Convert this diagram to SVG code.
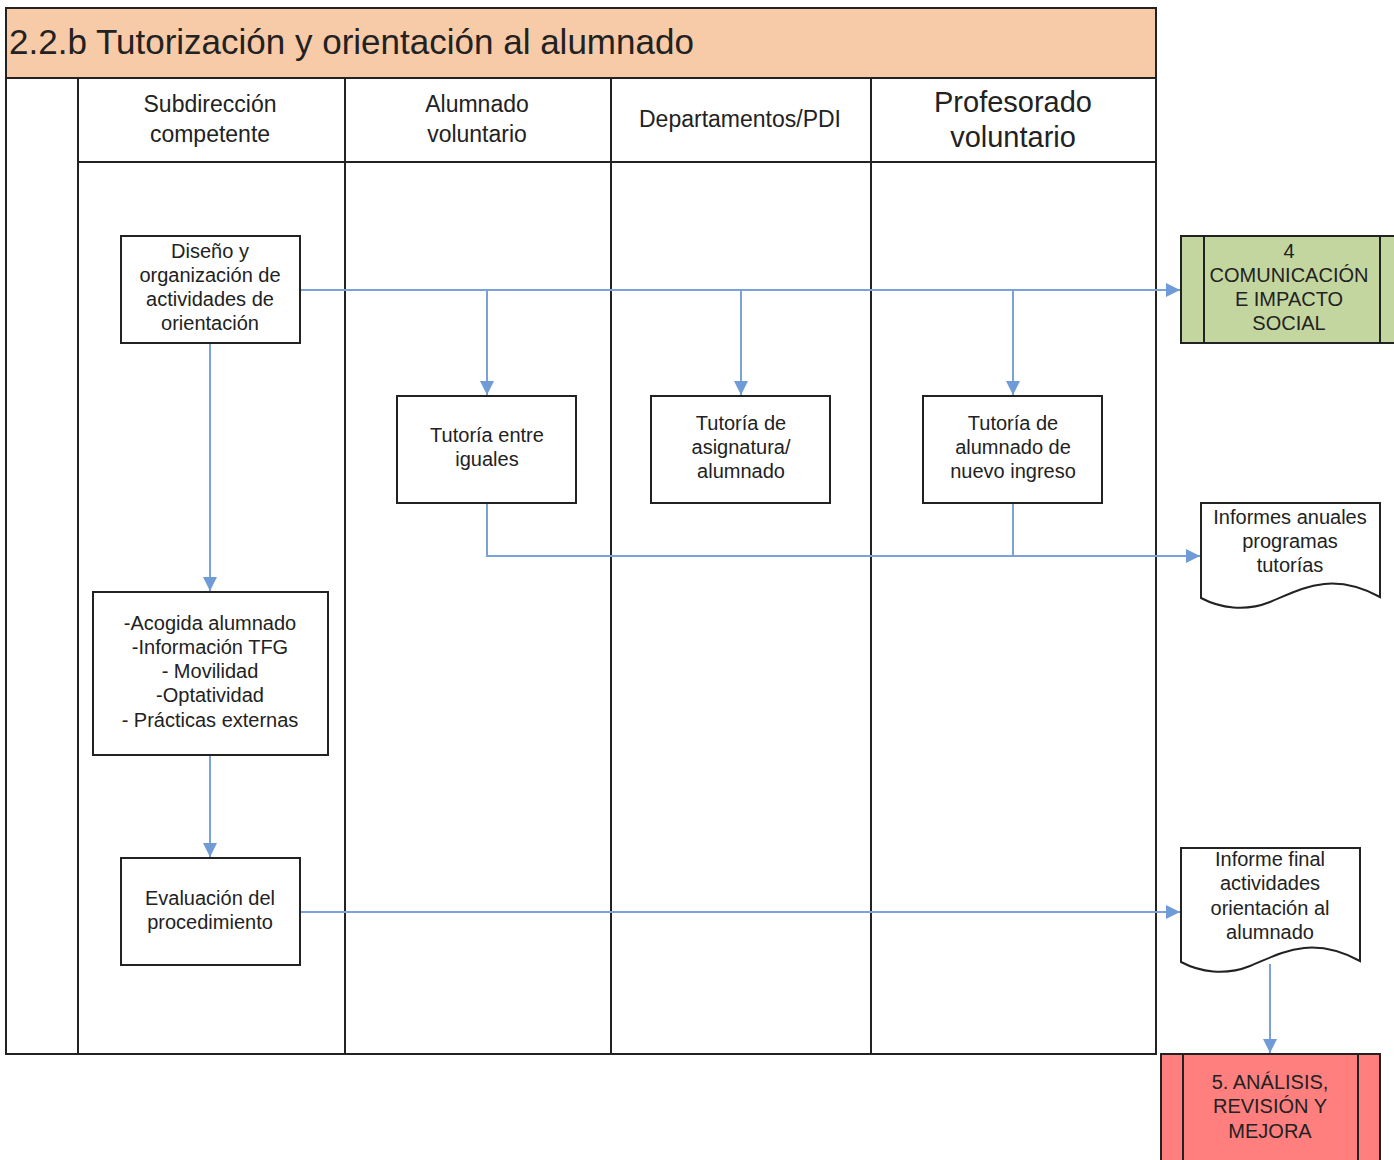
<svg xmlns="http://www.w3.org/2000/svg" width="1394" height="1160" viewBox="0 0 1394 1160">
<defs>
<marker id="arr" viewBox="0 0 10 10" refX="10" refY="5" markerWidth="14" markerHeight="14" markerUnits="userSpaceOnUse" orient="auto">
<path d="M0,0 L10,5 L0,10 z" fill="#6F9BD6"/>
</marker>
<style>
.t{font-family:"Liberation Sans",Arial,sans-serif;fill:#222;text-anchor:middle}
.box{fill:#fff;stroke:#222;stroke-width:2}
.ln{fill:none;stroke:#222;stroke-width:2}
.c{fill:none;stroke:#7AA2D8;stroke-width:2}
</style>
</defs>
<rect width="1394" height="1160" fill="#fff"/>
<g id="pool">
<rect x="6" y="8" width="1150" height="70" fill="#F8CBA8" stroke="#222" stroke-width="2"/>
<text x="9" y="54" style="font-family:'Liberation Sans',Arial,sans-serif;font-size:35px;fill:#222">2.2.b Tutorización y orientación al alumnado</text>
<rect x="6" y="78" width="1150" height="976" class="ln"/>
<line x1="78" y1="78" x2="78" y2="1054" class="ln"/>
<line x1="345" y1="78" x2="345" y2="1054" class="ln"/>
<line x1="611" y1="78" x2="611" y2="1054" class="ln"/>
<line x1="871" y1="78" x2="871" y2="1054" class="ln"/>
<line x1="78" y1="162" x2="1156" y2="162" class="ln"/>
<text class="t" x="210" y="112" font-size="23">Subdirección</text>
<text class="t" x="210" y="142" font-size="23">competente</text>
<text class="t" x="477" y="112" font-size="23">Alumnado</text>
<text class="t" x="477" y="142" font-size="23">voluntario</text>
<text class="t" x="740" y="127" font-size="23">Departamentos/PDI</text>
<text class="t" x="1013" y="112" font-size="29">Profesorado</text>
<text class="t" x="1013" y="147" font-size="29">voluntario</text>
</g>
<g id="connectors">
<line x1="300" y1="290" x2="1180" y2="290" class="c" marker-end="url(#arr)"/>
<line x1="487" y1="290" x2="487" y2="395" class="c" marker-end="url(#arr)"/>
<line x1="741" y1="290" x2="741" y2="395" class="c" marker-end="url(#arr)"/>
<line x1="1013" y1="290" x2="1013" y2="395" class="c" marker-end="url(#arr)"/>
<line x1="210" y1="343" x2="210" y2="591" class="c" marker-end="url(#arr)"/>
<line x1="210" y1="755" x2="210" y2="857" class="c" marker-end="url(#arr)"/>
<line x1="300" y1="912" x2="1180" y2="912" class="c" marker-end="url(#arr)"/>
<polyline points="487,503 487,556 1200,556" class="c" marker-end="url(#arr)"/>
<line x1="1013" y1="503" x2="1013" y2="556" class="c"/>
<line x1="1270" y1="964" x2="1270" y2="1053" class="c" marker-end="url(#arr)"/>
</g>
<g id="n-diseno">
<rect x="121" y="236" width="179" height="107" class="box"/>
<text class="t" font-size="20"><tspan x="210" y="258">Diseño y</tspan><tspan x="210" y="282">organización de</tspan><tspan x="210" y="306">actividades de</tspan><tspan x="210" y="330">orientación</tspan></text>
</g>
<g id="n-iguales">
<rect x="397" y="396" width="179" height="107" class="box"/>
<text class="t" font-size="20"><tspan x="487" y="442">Tutoría entre</tspan><tspan x="487" y="466">iguales</tspan></text>
</g>
<g id="n-asignatura">
<rect x="651" y="396" width="179" height="107" class="box"/>
<text class="t" font-size="20"><tspan x="741" y="430">Tutoría de</tspan><tspan x="741" y="454">asignatura/</tspan><tspan x="741" y="478">alumnado</tspan></text>
</g>
<g id="n-ingreso">
<rect x="923" y="396" width="179" height="107" class="box"/>
<text class="t" font-size="20"><tspan x="1013" y="430">Tutoría de</tspan><tspan x="1013" y="454">alumnado de</tspan><tspan x="1013" y="478">nuevo ingreso</tspan></text>
</g>
<g id="n-acogida">
<rect x="93" y="592" width="235" height="163" class="box"/>
<text class="t" font-size="20"><tspan x="210" y="630">-Acogida alumnado</tspan><tspan x="210" y="654">-Información TFG</tspan><tspan x="210" y="678">- Movilidad</tspan><tspan x="210" y="702">-Optatividad</tspan><tspan x="210" y="727">- Prácticas externas</tspan></text>
</g>
<g id="n-evaluacion">
<rect x="121" y="858" width="179" height="107" class="box"/>
<text class="t" font-size="20"><tspan x="210" y="905">Evaluación del</tspan><tspan x="210" y="929">procedimiento</tspan></text>
</g>
<g id="n-comunicacion">
<rect x="1181" y="236" width="220" height="107" fill="#C4D6A0" stroke="#222" stroke-width="2"/>
<line x1="1204" y1="236" x2="1204" y2="343" class="ln"/>
<line x1="1380" y1="236" x2="1380" y2="343" class="ln"/>
<text class="t" font-size="20"><tspan x="1289" y="258">4</tspan><tspan x="1289" y="282">COMUNICACIÓN</tspan><tspan x="1289" y="306">E IMPACTO</tspan><tspan x="1289" y="330">SOCIAL</tspan></text>
</g>
<g id="n-informes">
<path d="M1201,503 L1380,503 L1380,597 C1330,570 1300,590 1270,602 C1245,612 1220,608 1201,598 Z" class="box"/>
<text class="t" font-size="20"><tspan x="1290" y="524">Informes anuales</tspan><tspan x="1290" y="548">programas</tspan><tspan x="1290" y="572">tutorías</tspan></text>
</g>
<g id="n-final">
<path d="M1181,848 L1360,848 L1360,961 C1310,934 1280,954 1250,966 C1225,976 1200,972 1181,962 Z" class="box"/>
<text class="t" font-size="20"><tspan x="1270" y="866">Informe final</tspan><tspan x="1270" y="890">actividades</tspan><tspan x="1270" y="915">orientación al</tspan><tspan x="1270" y="939">alumnado</tspan></text>
</g>
<g id="n-analisis">
<rect x="1161" y="1054" width="219" height="110" fill="#FF7F7F" stroke="#222" stroke-width="2"/>
<line x1="1183" y1="1054" x2="1183" y2="1160" class="ln"/>
<line x1="1358" y1="1054" x2="1358" y2="1160" class="ln"/>
<text class="t" font-size="20"><tspan x="1270" y="1089">5. ANÁLISIS,</tspan><tspan x="1270" y="1113">REVISIÓN Y</tspan><tspan x="1270" y="1138">MEJORA</tspan></text>
</g>
</svg>
